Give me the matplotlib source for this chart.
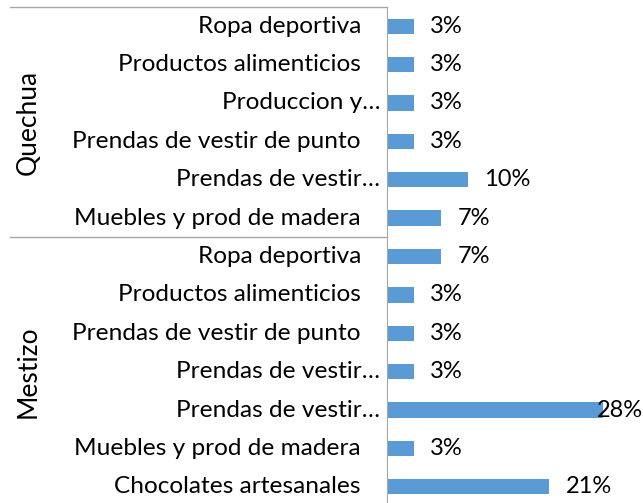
import matplotlib.pyplot as plt
from matplotlib.transforms import blended_transform_factory, ScaledTranslation

# datos (porcentajes)
grupos = ["Quechua", "Mestizo"]
quechua_cat = ["Ropa deportiva", "Productos alimenticios", "Produccion y…",
               "Prendas de vestir de punto", "Prendas de vestir…",
               "Muebles y prod de madera"]
quechua_val = [3.4, 3.4, 3.4, 3.4, 10.3, 6.9]
mestizo_cat = ["Ropa deportiva", "Productos alimenticios",
               "Prendas de vestir de punto", "Prendas de vestir…",
               "Prendas de vestir…", "Muebles y prod de madera",
               "Chocolates artesanales"]
mestizo_val = [6.9, 3.4, 3.4, 3.4, 27.6, 3.4, 20.7]

plt.rcParams['font.family'] = ['Lato', 'DejaVu Sans']
azul = "#5B9BD5"
gris = "#A6A6A6"
fs_cat = 17.6
fs_val = 17
fs_grp = 19

cats = quechua_cat + mestizo_cat
vals = quechua_val + mestizo_val
n = len(cats)
ys = list(range(n))

fig = plt.figure(figsize=(6.43, 5.03), dpi=100)
ax = fig.add_axes([387 / 643, -3 / 503, 256 / 643, 499 / 503])
ax.barh(ys, vals, height=0.4, color=azul)
ax.set_ylim(n - 0.5, -0.5)
ax.set_xlim(0, 32.7)

for s in ["top", "right", "bottom"]:
    ax.spines[s].set_visible(False)
ax.spines["left"].set_color(gris)
ax.set_xticks([])
ax.set_yticks([])

trans = blended_transform_factory(ax.transAxes, ax.transData)
for y, c in zip(ys, cats):
    dx = -7 / 100 if c.endswith("…") else -26 / 100
    t = trans + ScaledTranslation(dx, 0, fig.dpi_scale_trans)
    ax.text(0, y, c, transform=t, ha="right", va="center", fontsize=fs_cat)

# etiquetas de valor
etiquetas = []
for y, v in zip(ys, vals):
    e = ax.annotate(f"{v:.0f}%", (v, y), xytext=(12, 0), textcoords="offset points",
                    ha="left", va="center", fontsize=fs_val)
    etiquetas.append(e)
fig.canvas.draw()
r = fig.canvas.get_renderer()
for e, y in zip(etiquetas, ys):
    if e.get_window_extent(r).x1 > fig.bbox.x1:
        e.remove()
        ax.text(32.7, y, e.get_text(), ha="right", va="center", fontsize=fs_val)

# lineas de grupo
x0 = (10 - 387) / 256
limites = [-0.5, len(quechua_cat) - 0.5]
for yl in limites:
    ax.plot([x0, 0], [yl, yl], transform=trans, color=gris, lw=1, clip_on=False)

inicio = [0, len(quechua_cat)]
tam = [len(quechua_cat), len(mestizo_cat)]
xg = (28 - 387) / 256
for g, i0, k in zip(grupos, inicio, tam):
    ax.text(xg, i0 + (k - 1) / 2, g, transform=trans, rotation=90,
            ha="center", va="center", fontsize=fs_grp)

fig.savefig("out.png", dpi=100)
